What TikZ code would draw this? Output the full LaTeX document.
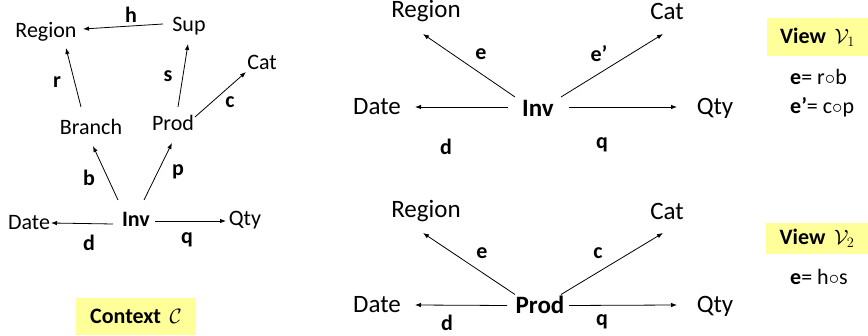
\documentclass[tikz,border=0pt]{standalone}
\usepackage{fontspec}
\setmainfont{Carlito}
\usetikzlibrary{arrows.meta,calc}
\definecolor{hl}{RGB}{255,255,153}
\begin{document}
\begin{tikzpicture}[x=1pt,y=-1pt,
  lt/.style={font=\fontsize{22}{24}\selectfont, inner sep=0pt, text height=14pt, text depth=0pt},
  mt/.style={font=\fontsize{25}{28}\selectfont, inner sep=0pt, text height=16pt, text depth=0pt},
  lbl/.style={font=\fontsize{22}{24}\selectfont\bfseries, inner sep=0pt},
  mlbl/.style={font=\fontsize{22}{24}\selectfont\bfseries, inner sep=0pt},
  arr/.style={-{Latex[length=6pt,width=4.5pt]}, line width=0.8pt},
  hbox/.style={fill=hl, draw=none},
  eqn/.style={font=\fontsize{22}{24}\selectfont, inner sep=0pt, anchor=west}]
\useasboundingbox (0,0) rectangle (868,336);

% ---------- Context C ----------
\node[lt] (lRegion) at (46,31) {Region};
\node[lt] (lSup) at (189,25) {Sup};
\node[lt] (lCat) at (262,63) {Cat};
\node[lt] (lBranch) at (91,128) {Branch};
\node[lt] (lProd) at (173,124) {Prod};
\node[lt,font=\fontsize{22}{24}\selectfont\bfseries] (lInv) at (136,220) {Inv};
\node[lt] (lDate) at (29,223) {Date};
\node[lt] (lQty) at (245,219) {Qty};

\draw[arr] ($(lSup.center)+(-26,-1)$) -- ($(lRegion.center)+(37,-2)$);
\draw[arr] ($(lBranch.center)+(-10,-21)$) -- ($(lRegion.center)+(20,17)$);
\draw[arr] ($(lProd.center)+(5,-17)$) -- ($(lSup.center)+(-1,19)$);
\draw[arr] ($(lProd.center)+(22,-7)$) -- ($(lCat.center)+(-16,9)$);
\draw[arr] ($(lInv.center)+(-18,-20)$) -- ($(lBranch.center)+(2,18)$);
\draw[arr] ($(lInv.center)+(8,-20)$) -- ($(lProd.center)+(-1,19)$);
\draw[arr] ($(lInv.center)+(-23,4)$) -- ($(lDate.center)+(22,0)$);
\draw[arr] ($(lInv.center)+(19,1)$) -- ($(lQty.center)+(-19,2)$);

\node[lbl] (lh) at (131,15) {h};
\node[lbl] (lr) at (57,82) {r};
\node[lbl] (ls) at (168,76) {s};
\node[lbl] (lc) at (230,102) {c};
\node[lbl] (lb) at (89,178) {b};
\node[lbl] (lp) at (178,172) {p};
\node[lbl] (ld) at (89,243) {d};
\node[lbl] (lq) at (187,240) {q};

\node[hbox, minimum width=120pt, minimum height=37pt, inner sep=0pt] (ctxbox) at (136,316.5) {};
\node[lbl] (ctx) at (ctxbox.center) {Context\, $\mathcal{C}$};

% ---------- View V1 ----------
\node[mt] (aRegion) at (426,10) {Region};
\node[mt] (aCat) at (667,12) {Cat};
\node[mt] (aDate) at (377,107) {Date};
\node[mt,font=\fontsize{25}{28}\selectfont\bfseries] (aInv) at (538,109) {Inv};
\node[mt] (aQty) at (715,107) {Qty};

\draw[arr] ($(aInv.center)+(-23,-12)$) -- ($(aRegion.center)+(-3,24)$);
\draw[arr] ($(aInv.center)+(23,-12)$) -- ($(aCat.center)+(-4,22)$);
\draw[arr] ($(aInv.center)+(-30,-2)$) -- ($(aDate.center)+(38,0)$);
\draw[arr] ($(aInv.center)+(31,-2)$) -- ($(aQty.center)+(-38,0)$);

\node[mlbl] (ae) at (481,54) {e};
\node[mlbl] (aep) at (599,54) {e’};
\node[mlbl] (ad) at (446,147) {d};
\node[mlbl] (aq) at (602,145) {q};

% ---------- View V2 ----------
\node[mt] (bRegion) at (426,210) {Region};
\node[mt] (bCat) at (667,212) {Cat};
\node[mt] (bDate) at (377,305) {Date};
\node[mt,font=\fontsize{25}{28}\selectfont\bfseries] (bProd) at (540,305.5) {Prod};
\node[mt] (bQty) at (715,305) {Qty};

\draw[arr] ($(bProd.center)+(-25,-11)$) -- ($(bRegion.center)+(-3,23)$);
\draw[arr] ($(bProd.center)+(21,-11)$) -- ($(bCat.center)+(-4,21)$);
\draw[arr] ($(bProd.center)+(-33,0)$) -- ($(bDate.center)+(38,0)$);
\draw[arr] ($(bProd.center)+(29,0)$) -- ($(bQty.center)+(-38,0)$);

\node[mlbl] (be) at (482,253) {e};
\node[mlbl] (bc) at (598,253) {c};
\node[mlbl] (bd) at (447,323) {d};
\node[mlbl] (bq) at (602,322) {q};

% ---------- Right side boxes ----------
\node[hbox, minimum width=101pt, minimum height=38pt, inner sep=0pt] (v1box) at (817.5,37) {};
\node[lbl] (v1) at (v1box.center) {View\, $\mathcal{V}_1$};
\node[eqn] (eq1) at (790,77) {\textbf{e}= r$\circ$b};
\node[eqn] (eq2) at (790,107) {\textbf{e’}= c$\circ$p};

\node[hbox, minimum width=102pt, minimum height=31pt, inner sep=0pt] (v2box) at (817,238.5) {};
\node[lbl] (v2) at (v2box.center) {View\, $\mathcal{V}_2$};
\node[eqn] (eq3) at (790,277) {\textbf{e}= h$\circ$s};
\end{tikzpicture}
\end{document}
